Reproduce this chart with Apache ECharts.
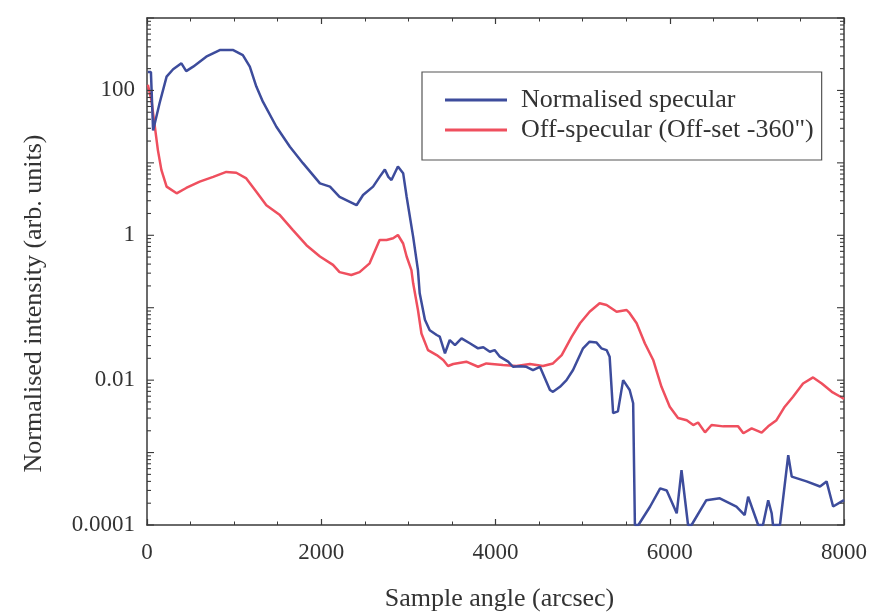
<!DOCTYPE html>
<html><head><meta charset="utf-8">
<script src="https://cdn.jsdelivr.net/npm/echarts@6/dist/echarts.min.js"></script>
<style>html,body{margin:0;padding:0;background:#fff}#c{width:870px;height:613px}</style>
</head><body><div id="c"></div><script>
// ---- data ----
const seriesNames = ['Normalised specular', 'Off-specular (Off-set -360")'];
const specX = [10,45,70,145,225,300,395,450,530,680,835,990,1100,1180,1255,1330,1485,1640,1790,1985,2100,2210,2405,2480,2595,2670,2730,2770,2806,2880,2940,2980,3055,3110,3130,3190,3245,3325,3360,3420,3475,3535,3610,3705,3800,3860,3935,3990,4050,4145,4200,4280,4355,4430,4510,4625,4660,4740,4815,4890,5005,5080,5160,5215,5275,5310,5350,5405,5465,5485,5540,5580,5600,5640,5775,5890,5965,6080,6135,6210,6250,6420,6575,6765,6860,6900,6955,7015,7070,7130,7170,7185,7265,7360,7400,7570,7725,7800,7875,7970,8000];
const specY = [180,180,28,67,155,196,237,185,213,292,361,361,308,213,113,70,31.5,16.7,9.9,5.2,4.7,3.4,2.6,3.6,4.7,6.4,8.1,6.4,5.8,8.9,7.2,3.4,0.95,0.33,0.158,0.068,0.049,0.042,0.040,0.0235,0.0358,0.0305,0.0378,0.0323,0.0275,0.0284,0.0247,0.026,0.0211,0.018,0.0153,0.0156,0.0153,0.0138,0.0153,0.0073,0.0069,0.0081,0.010,0.0138,0.0275,0.034,0.033,0.0275,0.026,0.0211,0.0035,0.0037,0.010,0.0106,0.0073,0.0048,0.0001,0.0001,0.00018,0.00032,0.0003,0.000145,0.00057,0.0001,0.0001,0.00022,0.000234,0.00018,0.000137,0.000246,0.00016,0.0001,0.0001,0.00022,0.000145,0.0001,0.0001,0.00092,0.000465,0.0004,0.00034,0.0004,0.00018,0.00021,0.00022];
const offX = [10,50,90,125,165,225,340,450,605,760,910,1025,1140,1255,1370,1525,1675,1830,1985,2135,2210,2345,2440,2555,2670,2750,2825,2880,2940,2980,3035,3055,3110,3150,3225,3325,3400,3455,3515,3665,3800,3895,4085,4240,4395,4545,4660,4760,4875,4970,5080,5195,5275,5390,5505,5540,5620,5715,5810,5905,6000,6095,6195,6270,6325,6405,6480,6615,6785,6845,6940,7055,7130,7225,7320,7415,7530,7645,7745,7860,7970,8000];
const offY = [120,74,31.6,15,8.0,4.7,3.8,4.5,5.5,6.4,7.5,7.3,6.1,4.0,2.6,1.9,1.18,0.73,0.51,0.39,0.31,0.283,0.31,0.41,0.86,0.86,0.91,1.01,0.77,0.51,0.33,0.217,0.093,0.044,0.026,0.0222,0.019,0.0157,0.0167,0.018,0.0153,0.017,0.0162,0.0157,0.0167,0.0157,0.017,0.0222,0.040,0.061,0.088,0.115,0.109,0.088,0.093,0.084,0.061,0.032,0.019,0.0081,0.0043,0.003,0.0028,0.0024,0.0026,0.0019,0.0024,0.0023,0.0023,0.00185,0.00216,0.00188,0.0023,0.0028,0.0043,0.0059,0.009,0.0109,0.009,0.0069,0.0058,0.0055];
const xTickValues = [0, 2000, 4000, 6000, 8000];
const yLabelValues = [0.0001, 0.01, 1, 100];
const yMin = 0.0001, yMax = 1000;

// ---- build ----
const FONT = '"Liberation Serif","Times New Roman",serif';
const TXT = '#333';
const AX = '#3a3a3a';
const zip = (xs, ys) => xs.map((x, i) => [x, ys[i]]);

// log-axis tick marks (decades + 2..9 minors)
const yTicks = [];
for (let e = -4; e <= 3; e++) {
  yTicks.push([0, Math.pow(10, e), 1]);
  if (e < 3) for (let m = 2; m <= 9; m++) yTicks.push([0, m * Math.pow(10, e), 0]);
}

const chart = echarts.init(document.getElementById('c'), null, {renderer: 'canvas'});
const xCommon = {
  type: 'value', min: 0, max: 8000, interval: 2000,
  axisLine: {show: true, onZero: false, lineStyle: {color: AX, width: 1.5}},
  axisTick: {show: true, inside: true, length: 6, lineStyle: {color: AX, width: 1.2}},
  minorTick: {show: true, splitNumber: 4, length: 3.5, lineStyle: {color: AX, width: 1}},
  splitLine: {show: false}, minorSplitLine: {show: false}
};
chart.setOption({
  animation: false,
  backgroundColor: '#fff',
  grid: {left: 147, top: 18, right: 26, bottom: 88, containLabel: false, outerBoundsMode: 'none'},
  legend: {
    data: seriesNames, orient: 'vertical', left: 422, top: 72,
    padding: [13, 8, 15, 23], itemGap: 0, itemWidth: 62, itemHeight: 3, icon: 'rect',
    borderColor: '#555', borderWidth: 1.2,
    textStyle: {fontFamily: FONT, fontSize: 26, color: TXT, lineHeight: 30, padding: [0, 0, 0, 9]}
  },
  xAxis: [
    Object.assign({}, xCommon, {
      position: 'bottom',
      axisLabel: {margin: 16, color: TXT, fontSize: 23, fontFamily: FONT,
        formatter: v => xTickValues.includes(v) ? String(v) : ''},
      name: 'Sample angle (arcsec)', nameLocation: 'middle', nameGap: 61,
      nameTextStyle: {color: TXT, fontSize: 26, fontFamily: FONT, padding: [0, 0, 0, 8]}
    }),
    Object.assign({}, xCommon, {position: 'top', axisLabel: {show: false}})
  ],
  yAxis: [
    {
      type: 'log', logBase: 10, min: yMin, max: yMax, position: 'left',
      axisLine: {show: true, onZero: false, lineStyle: {color: AX, width: 1.5}},
      axisTick: {show: false}, splitLine: {show: false},
      axisLabel: {margin: 12, color: TXT, fontSize: 23, fontFamily: FONT,
        formatter: v => {
          const e = Math.round(Math.log10(v));
          const val = Math.pow(10, e);
          return yLabelValues.some(t => Math.abs(Math.log10(t) - e) < 1e-6) ? String(+val.toPrecision(6)) : '';
        }},
      name: 'Normalised intensity (arb. units)', nameLocation: 'middle', nameGap: 100,
      nameTextStyle: {color: TXT, fontSize: 26, fontFamily: FONT, padding: [0, 64, 0, 0]}
    },
    {
      type: 'log', logBase: 10, min: yMin, max: yMax, position: 'right',
      axisLine: {show: true, onZero: false, lineStyle: {color: AX, width: 1.5}},
      axisTick: {show: false}, splitLine: {show: false}, axisLabel: {show: false}
    }
  ],
  series: [
    {
      name: seriesNames[0], type: 'line', data: zip(specX, specY),
      showSymbol: false, symbol: 'none', clip: true,
      lineStyle: {color: '#3d4c9c', width: 2.5}, itemStyle: {color: '#3d4c9c'}, z: 3
    },
    {
      name: seriesNames[1], type: 'line', data: zip(offX, offY),
      showSymbol: false, symbol: 'none', clip: true,
      lineStyle: {color: '#ef4f5e', width: 2.5}, itemStyle: {color: '#ef4f5e'}, z: 2
    },
    {
      name: 'yticks', type: 'custom', silent: true, data: yTicks,
      encode: {x: 0, y: 1}, z: 5,
      renderItem: (params, api) => {
        const v = api.value(1), major = api.value(2);
        const pl = api.coord([0, v]), pr = api.coord([8000, v]);
        const len = major ? 7 : 4;
        return {type: 'group', children: [
          {type: 'line', shape: {x1: pl[0], y1: pl[1], x2: pl[0] + len, y2: pl[1]}, style: {stroke: AX, lineWidth: 1.1}},
          {type: 'line', shape: {x1: pr[0] - len, y1: pr[1], x2: pr[0], y2: pr[1]}, style: {stroke: AX, lineWidth: 1.1}}
        ]};
      }
    }
  ]
});
</script></body></html>
